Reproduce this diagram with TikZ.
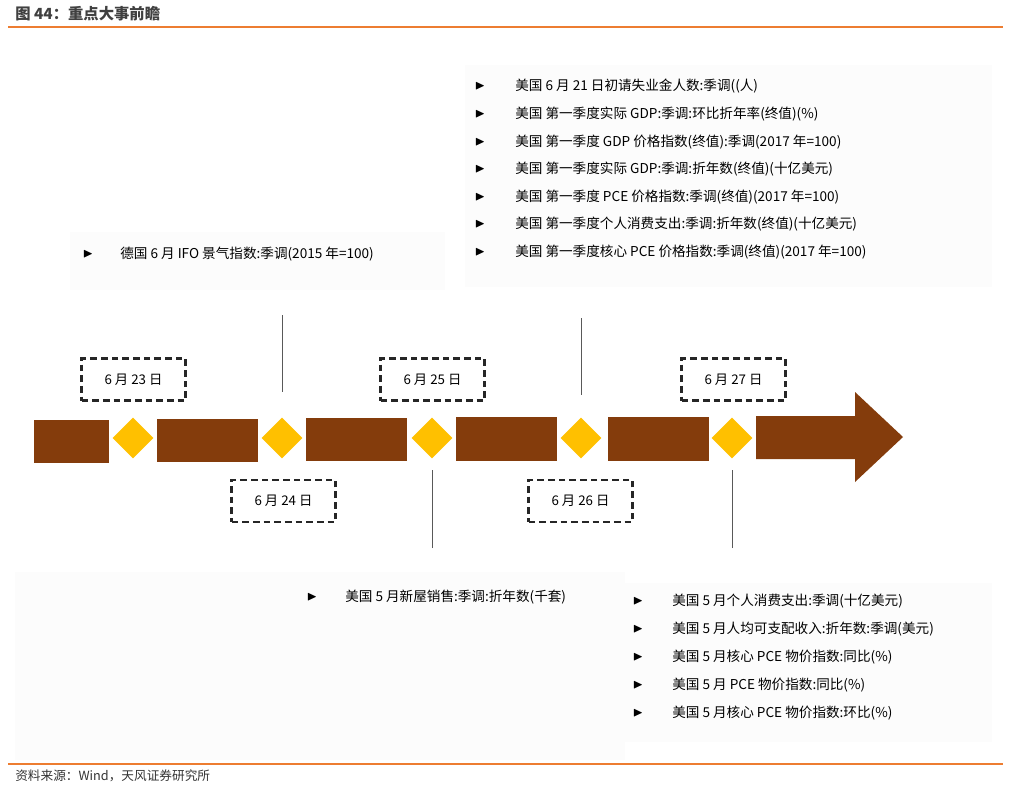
\documentclass[tikz,border=0pt]{standalone}
\usepackage{amssymb}
\usepackage{fontspec}
\setmainfont{Noto Sans CJK SC}
\usetikzlibrary{shapes.geometric}
\definecolor{brn}{HTML}{843C0C}
\definecolor{gld}{HTML}{FFC000}
\definecolor{org}{HTML}{ED7D31}
\begin{document}
\begin{tikzpicture}[x=0.75pt,y=-0.75pt,
 bar/.style={fill=brn,draw=none},
 dia/.style={diamond,fill=gld,minimum size=41*0.75pt,inner sep=0pt},
 date/.style={draw=black!85,dashed,line width=1.6pt,dash pattern=on 5pt off 3pt,minimum width=104*0.75pt,minimum height=42*0.75pt,font=\fontsize{10}{11}\selectfont},
 it/.style={anchor=west,font=\fontsize{10.2}{11}\selectfont,inner sep=0pt},
 bl/.style={anchor=center,font=\fontsize{10}{10}\selectfont,inner sep=0pt},
 bg/.style={fill=black!1,draw=none},
 vl/.style={draw=black!65,line width=0.7pt}]
\useasboundingbox (0,0) rectangle (1010,786);
\node[anchor=west,font=\bfseries\fontsize{11.5}{12}\selectfont,text=black!75,inner sep=0pt] (title) at (15,14) {图 44：重点大事前瞻};
\draw[org,line width=1pt] (8,27) -- (1003,27);
\draw[org,line width=1pt] (8,764) -- (1003,764);
\node[anchor=west,font=\fontsize{9.5}{10}\selectfont,text=black!80,inner sep=0pt] (src) at (15,776) {资料来源：Wind，天风证券研究所};
% backgrounds
\fill[bg] (465,65) rectangle (992,287);
\fill[bg] (70,232) rectangle (445,290);
\fill[bg] (15,572) rectangle (625,760);
\fill[bg] (625,583) rectangle (992,742);
% bars
\fill[bar] (34,420) rectangle (109,463);
\fill[bar] (157,419) rectangle (258,462);
\fill[bar] (306,418) rectangle (407,461);
\fill[bar] (456,417) rectangle (557,461);
\fill[bar] (608,417) rectangle (709,461);
\fill[bar] (756,416) -- (855,416) -- (855,392) -- (903,437) -- (855,482) -- (855,459) -- (756,459) -- cycle;
\node[dia] (d1) at (133,438) {};
\node[dia] (d2) at (282,438) {};
\node[dia] (d3) at (432,438) {};
\node[dia] (d4) at (581,438) {};
\node[dia] (d5) at (732,438) {};
\node[date] (t23) at (133.5,379.5) {6 月 23 日};
\node[date] (t24) at (283.5,501) {6 月 24 日};
\node[date] (t25) at (432.5,379.5) {6 月 25 日};
\node[date] (t26) at (580.5,501) {6 月 26 日};
\node[date] (t27) at (733.5,379.5) {6 月 27 日};
\coordinate (c1) at (282,315); \coordinate (c2) at (432,548);
\coordinate (c3) at (581,318); \coordinate (c4) at (732,548);
\draw[vl] (c1) -- (282,392);
\draw[vl] (c2) -- (432,470);
\draw[vl] (c3) -- (581,395);
\draw[vl] (c4) -- (732,470);
% lists
\foreach \y/\t in {86/{美国 6 月 21 日初请失业金人数:季调((人)},
 114/{美国 第一季度实际 GDP:季调:环比折年率(终值)(\%)},
 142/{美国 第一季度 GDP 价格指数(终值):季调(2017 年=100)},
 169/{美国 第一季度实际 GDP:季调:折年数(终值)(十亿美元)},
 197/{美国 第一季度 PCE 价格指数:季调(终值)(2017 年=100)},
 224/{美国 第一季度个人消费支出:季调:折年数(终值)(十亿美元)},
 252/{美国 第一季度核心 PCE 价格指数:季调(终值)(2017 年=100)}}
 {\node[bl] at (480,\y) {$\blacktriangleright$}; \node[it] at (515,\y) {\t};}
\node[bl] at (88,254) {$\blacktriangleright$};
\node[it] (l1) at (120,254) {德国 6 月 IFO 景气指数:季调(2015 年=100)};
\node[bl] at (312,597) {$\blacktriangleright$};
\node[it] (l2) at (345,597) {美国 5 月新屋销售:季调:折年数(千套)};
\foreach \y/\t in {601/{美国 5 月个人消费支出:季调(十亿美元)},
 629/{美国 5 月人均可支配收入:折年数:季调(美元)},
 657/{美国 5 月核心 PCE 物价指数:同比(\%)},
 685/{美国 5 月 PCE 物价指数:同比(\%)},
 713/{美国 5 月核心 PCE 物价指数:环比(\%)}}
 {\node[bl] at (638,\y) {$\blacktriangleright$}; \node[it] at (672,\y) {\t};}
\end{tikzpicture}
\end{document}
